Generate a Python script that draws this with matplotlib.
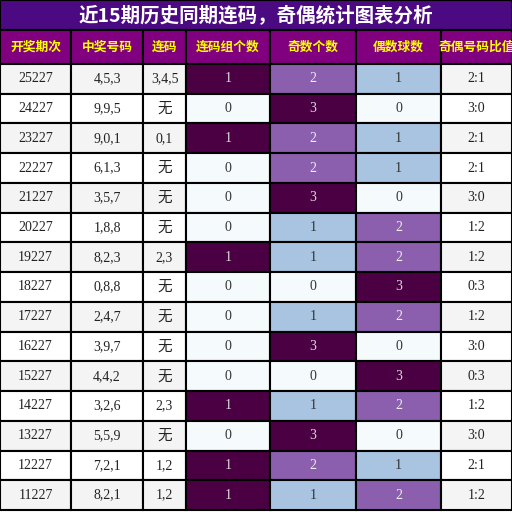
import matplotlib
matplotlib.use("Agg")
import matplotlib.pyplot as plt
from matplotlib.patches import Rectangle

title = "近15期历史同期连码，奇偶统计图表分析"
headers = ["开奖期次", "中奖号码", "连码", "连码组个数", "奇数个数", "偶数球数", "奇偶号码比值"]
periods = ["25227","24227","23227","22227","21227","20227","19227","18227","17227","16227","15227","14227","13227","12227","11227"]
numbers = ["4,5,3","9,9,5","9,0,1","6,1,3","3,5,7","1,8,8","8,2,3","0,8,8","2,4,7","3,9,7","4,4,2","3,2,6","5,5,9","7,2,1","8,2,1"]
lianma = ["3,4,5","无","0,1","无","无","无","2,3","无","无","无","无","2,3","无","1,2","1,2"]
groups = [1,0,1,0,0,0,1,0,0,0,0,1,0,1,1]
odd = [2,3,2,2,3,1,1,0,1,3,0,1,3,2,1]
even = [1,0,1,1,0,2,2,3,2,0,3,2,0,1,2]
ratio = ["2:1","3:0","2:1","2:1","3:0","1:2","1:2","0:3","1:2","3:0","0:3","1:2","3:0","2:1","1:2"]

CJK = ["Noto Sans CJK SC", "DejaVu Sans"]
SERIF = ["Liberation Serif", "Noto Sans CJK SC"]
DARK, MED, LIGHT, PALE = "#4a0042", "#8b5fad", "#a8c4e0", "#f5fafc"

fig = plt.figure(figsize=(5.12, 5.12), dpi=100)
ax = fig.add_axes([0, 0, 1, 1])
ax.set_xlim(0, 512); ax.set_ylim(512, 0); ax.axis("off")

cols = [0, 71, 143, 186, 270, 356, 441, 512]
top_h, head_h = 30, 34
n = len(periods)
row_h = (512 - 2 - top_h - head_h) / n

ax.add_patch(Rectangle((0, 0), 512, top_h, fc="#4b0a82", ec="black", lw=1.5))
ax.text(256, top_h/2, title, color="white", fontsize=14, fontweight="bold",
        ha="center", va="center", family=CJK)
for j, h in enumerate(headers):
    x0, x1 = cols[j], cols[j+1]
    ax.add_patch(Rectangle((x0, top_h), x1-x0, head_h, fc="#800080", ec="black", lw=1.5))
    ax.text((x0+x1)/2, top_h+head_h/2, h, color="#ffff00", fontsize=9.2, fontweight="bold",
            ha="center", va="center", family=CJK)

def col_color(v, dark_val):
    if v == 0: return PALE, "#333333"
    if v == dark_val: return DARK, "#dddddd"
    if v == 2: return MED, "#eeeeee"
    return LIGHT, "#333333"

for i in range(n):
    y0 = top_h + head_h + i*row_h
    base = "#f4f4f4" if i % 2 == 0 else "white"
    cells = [periods[i], numbers[i], lianma[i], str(groups[i]), str(odd[i]), str(even[i]), ratio[i]]
    fills = [(base, "#222222")]*3 + [col_color(groups[i], 1), col_color(odd[i], 3), col_color(even[i], 3), (base, "#222222")]
    for j in range(7):
        x0, x1 = cols[j], cols[j+1]
        fc, tc = fills[j]
        ax.add_patch(Rectangle((x0, y0), x1-x0, row_h, fc=fc, ec="black", lw=1.5))
        fam = CJK if cells[j] == "无" else SERIF
        fs = 10.5 if cells[j] == "无" else 10
        ax.text((x0+x1)/2, y0+row_h/2, cells[j], color=tc, fontsize=fs,
                ha="center", va="center", family=fam)

fig.savefig("out.png", dpi=100)
